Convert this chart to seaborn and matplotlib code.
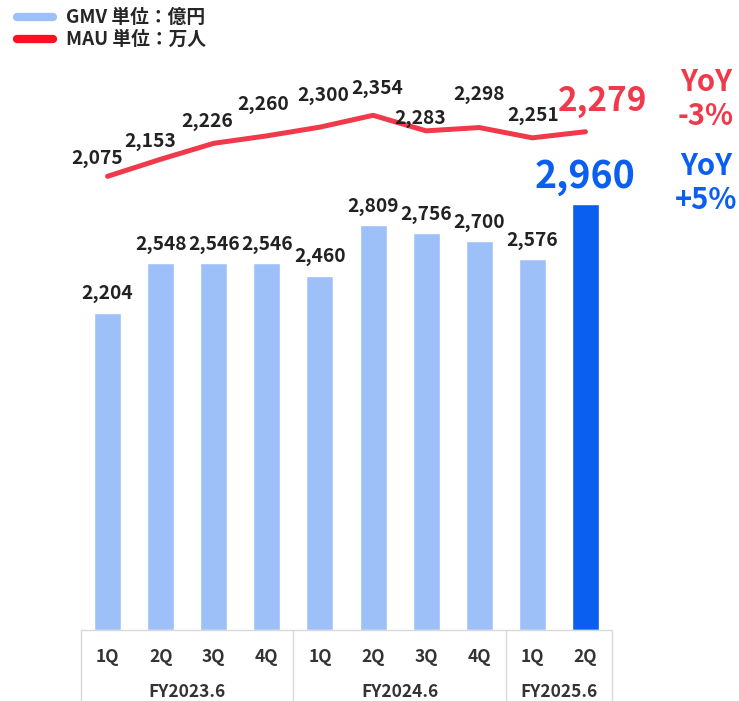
import numpy as np
import pandas as pd
import seaborn as sns
import matplotlib.pyplot as plt
from matplotlib.lines import Line2D

quarters = ["1Q", "2Q", "3Q", "4Q", "1Q", "2Q", "3Q", "4Q", "1Q", "2Q"]
fiscal_years = ["FY2023.6", "FY2024.6", "FY2025.6"]
fy_sizes = [4, 4, 2]
gmv = [2204, 2548, 2546, 2546, 2460, 2809, 2756, 2700, 2576, 2960]
mau = [2075, 2153, 2226, 2260, 2300, 2354, 2283, 2298, 2251, 2279]
gmv_yoy = "+5%"
mau_yoy = "-3%"

light_blue = "#9dc0f9"
dark_blue = "#0a5ef0"
red = "#f0394a"
txt = "#222222"

# label offsets in pixels (layout only)
mau_offsets = [(-10, 18), (-10, 18), (-7, 22), (-4, 31), (3, 32), (4, 27), (-6, 12), (0, 33), (1, 22)]

sns.set_theme(style="white")
plt.rcParams["font.family"] = ["Noto Sans CJK JP", "DejaVu Sans"]

fig = plt.figure(figsize=(7.39, 7.01), dpi=100)
ax = fig.add_axes([81 / 739, 71 / 701, 531 / 739, 570 / 701])

labels = [f"{q}_{i}" for i, q in enumerate(quarters)]
df = pd.DataFrame({"period": labels, "gmv": gmv})
palette = [light_blue] * (len(gmv) - 1) + [dark_blue]
sns.barplot(data=df, x="period", y="gmv", hue="period", palette=palette,
            legend=False, width=0.51, ax=ax, saturation=1)
ax.set_ylim(0, 3958)
ax.set_xlim(-0.5, len(gmv) - 0.5)

for i, v in enumerate(gmv):
    if i == len(gmv) - 1:
        ax.annotate(f"{v:,}", (i, v), xytext=(0, 27), textcoords="offset pixels",
                    ha="center", va="center", fontsize=27, fontweight="bold", color=dark_blue)
    else:
        ax.annotate(f"{v:,}", (i, v), xytext=(0, 19), textcoords="offset pixels",
                    ha="center", va="center", fontsize=13.8, fontweight="bold", color=txt)

ax2 = ax.twinx()
sns.lineplot(x=np.arange(len(mau)), y=mau, color=red, linewidth=3.6, ax=ax2,
             solid_capstyle="round")
ax2.set_ylim(0, 2607)
for i, v in enumerate(mau[:-1]):
    dx, dy = mau_offsets[i]
    ax2.annotate(f"{v:,}", (i, v), xytext=(dx, dy), textcoords="offset pixels",
                 ha="center", va="center", fontsize=13.8, fontweight="bold", color=txt)
ax2.annotate(f"{mau[-1]:,}", (len(mau) - 1, mau[-1]), xytext=(17, 30), textcoords="offset pixels",
             ha="center", va="center", fontsize=24, fontweight="bold", color=red)

for a in (ax, ax2):
    a.set_xlabel("")
    a.set_ylabel("")
    a.set_yticks([])
    a.set_xticks([])
    for s in a.spines.values():
        s.set_visible(False)

# YoY texts
fig.text(706 / 739, 1 - 82 / 701, "YoY", ha="center", va="center", fontsize=21, fontweight="bold", color=red)
fig.text(706 / 739, 1 - 116 / 701, mau_yoy, ha="center", va="center", fontsize=21, fontweight="bold", color=red)
fig.text(706 / 739, 1 - 166 / 701, "YoY", ha="center", va="center", fontsize=21, fontweight="bold", color=dark_blue)
fig.text(706 / 739, 1 - 200 / 701, gmv_yoy, ha="center", va="center", fontsize=21, fontweight="bold", color=dark_blue)

# category table under the bars
tr = ax.get_xaxis_transform()
grid = "#d9d9d9"
ax.plot([-0.5, len(gmv) - 0.5], [0, 0], color=grid, lw=1, transform=tr, clip_on=False)
bounds = np.concatenate([[0], np.cumsum(fy_sizes)]) - 0.5
for b in bounds:
    ax.plot([b, b], [0, -0.125], color=grid, lw=1, transform=tr, clip_on=False)
for i, q in enumerate(quarters):
    ax.text(i, -0.047, q, transform=tr, ha="center", va="center",
            fontsize=12.5, fontweight="bold", color="#333333")
for fy, lo, hi in zip(fiscal_years, bounds[:-1], bounds[1:]):
    ax.text((lo + hi) / 2, -0.109, fy, transform=tr, ha="center", va="center",
            fontsize=12.5, fontweight="bold", color="#333333")

handles = [Line2D([], [], color=light_blue, lw=6),
           Line2D([], [], color="#ff1020", lw=6)]
fig.legend(handles, ["GMV 単位：億円", "MAU 単位：万人"], loc="upper left",
           bbox_to_anchor=(0.0, 1.012), frameon=False,
           handlelength=1.9, handletextpad=0.7, labelspacing=0.15,
           prop={"weight": "bold", "size": 13.5})

fig.savefig("out.png", dpi=100)
